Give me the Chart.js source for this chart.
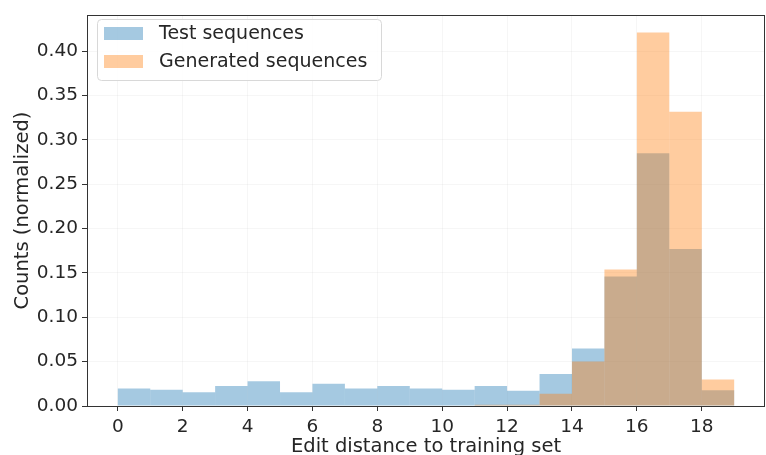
<!DOCTYPE html>
<html>
<head>
<meta charset="utf-8">
<script src="https://cdn.jsdelivr.net/npm/chart.js"></script>
<style>
  html, body { margin: 0; padding: 0; background: #fff; }
</style>
</head>
<body>
<canvas id="chart" width="766" height="455"></canvas>
<script>
// --- Data ---
const binCenters = [0.5, 1.5, 2.5, 3.5, 4.5, 5.5, 6.5, 7.5, 8.5, 9.5, 10.5, 11.5, 12.5, 13.5, 14.5, 15.5, 16.5, 17.5, 18.5];
const testSeq = [0.0196, 0.0182, 0.0156, 0.0226, 0.0278, 0.0156, 0.0252, 0.0196, 0.0226, 0.0196, 0.0182, 0.0226, 0.0171, 0.036, 0.0647, 0.146, 0.285, 0.177, 0.0178];
const generatedSeq = [0, 0, 0, 0, 0, 0, 0, 0, 0, 0, 0, 0.0015, 0.0015, 0.0137, 0.0503, 0.154, 0.421, 0.3316, 0.030];
const seriesNames = ['Test sequences', 'Generated sequences'];
const xTitle = 'Edit distance to training set';
const yTitle = 'Counts (normalized)';

const BLUE = 'rgba(31, 119, 180, 0.4)';
const ORANGE = 'rgba(255, 127, 14, 0.4)';
const TEXT = '#262626';
const FONT = 'DejaVu Sans';

const toPoints = vals => vals.map((v, i) => ({ x: binCenters[i], y: v }));

// --- Plugins ---
const framePlugin = {
    id: 'frame',
    afterDraw(chart) {
        const { ctx, chartArea: a } = chart;
        ctx.save();
        ctx.strokeStyle = '#333';
        ctx.lineWidth = 1;
        ctx.strokeRect(Math.round(a.left) + 0.5, Math.round(a.top) + 0.5,
            Math.round(a.right - a.left) - 1, Math.round(a.bottom - a.top));
        ctx.restore();
    }
};

const legendPlugin = {
    id: 'insideLegend',
    afterDatasetsDraw(chart) {
        const { ctx } = chart;
        const x = 97, y = 19, w = 284, h = 61;
        ctx.save();
        ctx.beginPath();
        ctx.roundRect(x + 0.5, y + 0.5, w, h, 4);
        ctx.fillStyle = 'rgba(255,255,255,0.8)';
        ctx.fill();
        ctx.strokeStyle = '#d8d8d8';
        ctx.lineWidth = 1;
        ctx.stroke();
        ctx.font = `19px "${FONT}"`;
        ctx.textBaseline = 'middle';
        chart.data.datasets.forEach((ds, i) => {
            const cy = 33.5 + i * 28;
            ctx.fillStyle = ds.backgroundColor;
            ctx.fillRect(104, cy - 6.5, 39, 13);
            ctx.fillStyle = TEXT;
            ctx.fillText(ds.label, 159, cy + 1);
        });
        ctx.restore();
    }
};

new Chart(document.getElementById('chart'), {
    type: 'bar',
    data: {
        datasets: [
            { label: seriesNames[0], data: toPoints(testSeq), backgroundColor: BLUE, order: 1 },
            { label: seriesNames[1], data: toPoints(generatedSeq), backgroundColor: ORANGE, order: 0 }
        ]
    },
    options: {
        responsive: false,
        animation: false,
        layout: { padding: { top: 9, right: 1, left: 0, bottom: 0 } },
        datasets: {
            bar: { grouped: false, barPercentage: 1, categoryPercentage: 1, borderWidth: 0, inflateAmount: 0 }
        },
        scales: {
            x: {
                type: 'linear',
                offset: false,
                min: -0.95,
                max: 19.95,
                afterFit: s => { s.height = 49; },
                ticks: { stepSize: 2, includeBounds: false, color: TEXT, padding: 5,
                         font: { family: FONT, size: 18.5 }, maxRotation: 0 },
                grid: { offset: false, color: 'rgba(0,0,0,0.035)', tickColor: '#333', tickLength: 5 },
                border: { display: false },
                title: { display: true, text: xTitle, color: TEXT, padding: { top: 0, bottom: -4 },
                         font: { family: FONT, size: 19.5 } }
            },
            y: {
                min: 0,
                max: 0.4407,
                afterFit: s => { s.width = 87; },
                ticks: { stepSize: 0.05, includeBounds: false, color: TEXT, padding: 4,
                         font: { family: FONT, size: 18.5 }, callback: v => v.toFixed(2) },
                grid: { color: 'rgba(0,0,0,0.035)', tickColor: '#333', tickLength: 5 },
                border: { display: false },
                title: { display: true, text: yTitle, color: TEXT, padding: { top: 11, bottom: 0 },
                         font: { family: FONT, size: 19.5 } }
            }
        },
        plugins: {
            legend: { display: false },
            tooltip: { enabled: false }
        }
    },
    plugins: [framePlugin, legendPlugin]
});
</script>
</body>
</html>
